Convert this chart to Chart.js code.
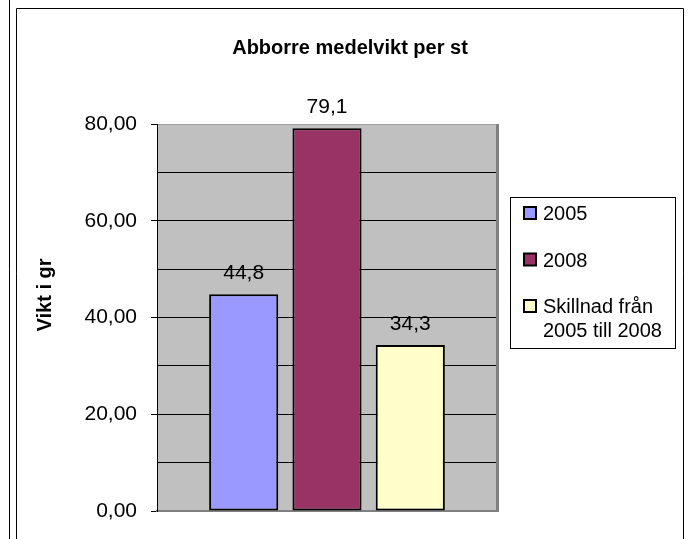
<!DOCTYPE html>
<html>
<head>
<meta charset="utf-8">
<title>Abborre medelvikt per st</title>
<script src="https://cdn.jsdelivr.net/npm/chart.js@4.4.1/dist/chart.umd.min.js"></script>
<style>
  html, body { margin: 0; padding: 0; background: #fff; }
  #wrap { position: relative; width: 690px; height: 539px; }
</style>
</head>
<body>
<div id="wrap"><canvas id="myChart" width="690" height="539"></canvas></div>
<script>
// data
const chartTitle = 'Abborre medelvikt per st';
const yAxisTitle = 'Vikt i gr';
const categories = [''];
const seriesNames = ['2005', '2008', 'Skillnad från 2005 till 2008'];
const seriesValues = [44.8, 79.1, 34.3];
const seriesColors = ['#9999FF', '#993366', '#FFFFCC'];
const yTickLabels = ['0,00', '20,00', '40,00', '60,00', '80,00'];

const FONT = '"Liberation Sans", Arial, sans-serif';

// split a legend text into lines that fit maxWidth
function wrapText(ctx, text, maxWidth) {
  const words = text.split(' ');
  const lines = [];
  let line = '';
  words.forEach(w => {
    const test = line ? line + ' ' + w : w;
    if (ctx.measureText(test).width > maxWidth && line) {
      lines.push(line);
      line = w;
    } else {
      line = test;
    }
  });
  if (line) lines.push(line);
  return lines;
}

// frame, plot background, titles, value labels and legend
const excelLook = {
  id: 'excelLook',
  beforeDraw(chart) {
    const { ctx, chartArea: a } = chart;
    ctx.save();
    ctx.strokeStyle = '#000';
    ctx.lineWidth = 1;
    ctx.beginPath();
    ctx.moveTo(9.5, 0);
    ctx.lineTo(9.5, 539);
    ctx.moveTo(16.5, 539);
    ctx.lineTo(16.5, 8.5);
    ctx.lineTo(683.5, 8.5);
    ctx.lineTo(683.5, 539);
    ctx.stroke();

    ctx.fillStyle = '#C0C0C0';
    ctx.fillRect(a.left, a.top, a.right - a.left, a.bottom - a.top);
    ctx.restore();
  },
  afterDatasetsDraw(chart) {
    const { ctx } = chart;
    ctx.save();
    ctx.fillStyle = '#000';
    ctx.font = '21px ' + FONT;
    ctx.textAlign = 'center';
    ctx.textBaseline = 'alphabetic';
    seriesValues.forEach((v, i) => {
      const el = chart.getDatasetMeta(i).data[0];
      ctx.fillText(v.toFixed(1).replace('.', ','), el.x, el.y - 15);
    });
    ctx.restore();
  },
  afterDraw(chart) {
    const { ctx, chartArea: a } = chart;
    ctx.save();
    // plot area edge on the right
    ctx.strokeStyle = '#808080';
    ctx.lineWidth = 3;
    ctx.beginPath();
    ctx.moveTo(a.right + 0.5, a.top);
    ctx.lineTo(a.right + 0.5, a.bottom + 1);
    ctx.stroke();

    // title
    ctx.fillStyle = '#000';
    ctx.font = 'bold 20px ' + FONT;
    ctx.textAlign = 'center';
    ctx.textBaseline = 'alphabetic';
    ctx.fillText(chartTitle, 350, 54);

    // y axis title
    ctx.save();
    ctx.translate(45, 295);
    ctx.rotate(-Math.PI / 2);
    ctx.textBaseline = 'middle';
    ctx.fillText(yAxisTitle, 0, 0);
    ctx.restore();

    // legend
    ctx.strokeStyle = '#000';
    ctx.lineWidth = 1;
    ctx.strokeRect(510.5, 197.5, 165, 151);
    ctx.font = '20px ' + FONT;
    ctx.textAlign = 'left';
    seriesNames.forEach((name, i) => {
      const base = 220 + i * 46.5;
      ctx.fillStyle = seriesColors[i];
      ctx.fillRect(524, base - 13, 12, 12);
      ctx.lineWidth = 2;
      ctx.strokeRect(524, base - 13, 12, 12);
      ctx.fillStyle = '#000';
      wrapText(ctx, name, 134).forEach((line, k) => {
        ctx.fillText(line, 543, base + k * 24);
      });
    });
    ctx.restore();
  }
};

const ctx = document.getElementById('myChart').getContext('2d');
new Chart(ctx, {
  type: 'bar',
  data: {
    labels: categories,
    datasets: seriesNames.map((name, i) => ({
      label: name,
      data: [seriesValues[i]],
      backgroundColor: seriesColors[i],
      borderColor: '#000',
      borderWidth: 2,
      borderSkipped: false,
      categoryPercentage: 0.735,
      barPercentage: 0.83
    }))
  },
  options: {
    responsive: false,
    animation: false,
    events: [],
    layout: { padding: { left: 16, top: 124, right: 193, bottom: 28 } },
    plugins: {
      legend: { display: false },
      title: { display: false },
      tooltip: { enabled: false }
    },
    scales: {
      x: {
        ticks: { display: false },
        grid: { display: false, drawTicks: false },
        border: { display: true, color: '#808080', width: 2 }
      },
      y: {
        min: 0,
        max: 80,
        afterFit(scale) { scale.width = 141; },
        ticks: {
          stepSize: 10,
          autoSkip: false,
          padding: 14,
          color: '#000',
          font: { family: FONT, size: 21 },
          callback: v => (v % 20 === 0 ? yTickLabels[v / 20] : '')
        },
        grid: {
          lineWidth: 1,
          tickLength: 6,
          color: c => (c.tick && c.tick.value === 80 ? '#A0A0A0' : c.tick && c.tick.value === 0 ? '#808080' : '#000'),
          tickColor: c => (c.tick && c.tick.value % 20 === 0 ? '#000' : 'rgba(0,0,0,0)')
        },
        border: { color: '#000', width: 1 }
      }
    }
  },
  plugins: [excelLook]
});
</script>
</body>
</html>
